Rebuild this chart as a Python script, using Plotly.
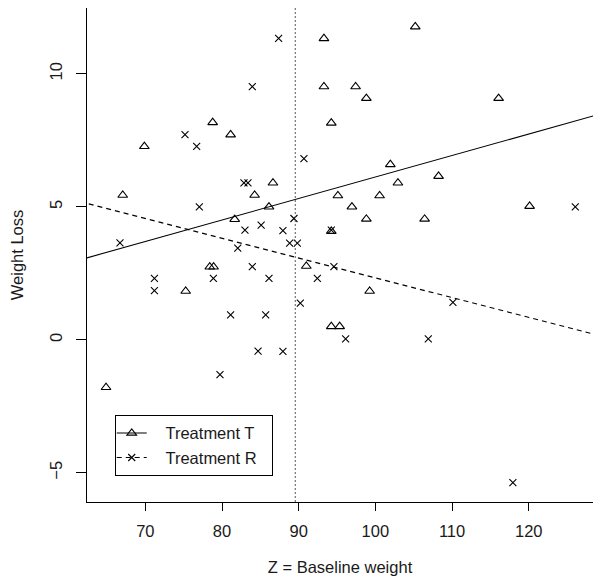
import plotly.graph_objects as go

# ---- data ----
t_z = [78.78, 81.12, 69.87, 67.05, 84.25, 81.65, 86.64, 86.12, 78.4, 78.9,
       75.26, 64.87, 95.11, 100.55, 102.94, 101.95, 96.94, 98.82, 106.42, 94.25,
       90.99, 99.25, 94.25, 95.34, 93.29, 105.2, 93.29, 97.42, 98.82, 94.25,
       116.07, 108.24, 120.11]
t_loss = [8.17, 7.71, 7.27, 5.44, 5.44, 4.53, 5.9, 5.0, 2.74, 2.74,
          1.83, -1.79, 5.42, 5.42, 5.9, 6.59, 5.0, 4.54, 4.54, 4.08,
          2.77, 1.83, 0.5, 0.5, 11.33, 11.77, 9.52, 9.52, 9.08, 8.15,
          9.08, 6.15, 5.02]
r_z = [83.95, 75.17, 76.69, 82.86, 83.38, 77.04, 82.99, 66.69, 82.05, 85.1,
       83.95, 71.18, 78.87, 71.18, 81.12, 84.7, 79.73, 86.12, 85.69, 87.94,
       90.21, 92.43, 94.59, 96.12, 106.9, 87.94, 89.38, 88.82, 89.82, 94.25,
       87.38, 90.68, 126.07, 110.11, 117.93]
r_loss = [9.52, 7.71, 7.27, 5.9, 5.9, 5.0, 4.12, 3.64, 3.45, 4.31,
          2.75, 2.31, 2.31, 1.85, 0.94, -0.43, -1.31, 2.31, 0.94, -0.44,
          1.38, 2.31, 2.75, 0.03, 0.03, 4.1, 4.56, 3.63, 3.63, 4.12,
          11.33, 6.81, 5.0, 1.41, -5.37]

fit_t = {"intercept": -1.96, "slope": 0.0808}
fit_r = {"intercept": 9.768, "slope": -0.0744}
z_ref = 89.55

x_ticks = [70, 80, 90, 100, 110, 120]
y_ticks = [-5, 0, 5, 10]
x_range = [62.39, 128.38]
y_range = [-6.1, 12.475]

FONT = "Arial, Liberation Sans, sans-serif"
FS = 16.5
INK = "#1a1a1a"
NB = "\u00a0"

# fitted lines extended past the plotting region (clipped by the axes)
x_ext = [x_range[0] - 10, x_range[1] + 10]
t_line = [fit_t["intercept"] + fit_t["slope"] * x for x in x_ext]
r_line = [fit_r["intercept"] + fit_r["slope"] * x for x in x_ext]

TRI = dict(symbol="triangle-up-open", size=8.5, color="black",
           line=dict(width=1.1, color="black"))
CROSS = dict(symbol="x-thin-open", size=7, color="black",
             line=dict(width=1.1, color="black"))

fig = go.Figure()

fig.add_trace(go.Scatter(x=t_z, y=t_loss, mode="markers", showlegend=False, marker=TRI))
fig.add_trace(go.Scatter(x=r_z, y=r_loss, mode="markers", showlegend=False, marker=CROSS))
fig.add_trace(go.Scatter(
    x=x_ext, y=t_line, mode="lines+markers",
    name=NB * 3 + "Treatment T" + NB * 2,
    line=dict(color="black", width=1.1), marker=TRI,
))
fig.add_trace(go.Scatter(
    x=x_ext, y=r_line, mode="lines+markers",
    name=NB * 3 + "Treatment R" + NB * 2,
    line=dict(color="black", width=1.1, dash="5px,4px"), marker=CROSS,
))

fig.add_shape(type="line", xref="x", yref="paper", x0=z_ref, x1=z_ref, y0=0, y1=1,
              line=dict(color="#555555", width=1, dash="2px,2px"))

fig.update_layout(
    width=593, height=572,
    margin=dict(l=79, r=8, t=0, b=78),
    paper_bgcolor="white", plot_bgcolor="white",
    font=dict(family=FONT, size=FS, color=INK),
    legend=dict(x=0.0548, y=0.053, xanchor="left", yanchor="bottom",
                bordercolor="black", borderwidth=1, bgcolor="white",
                font=dict(family=FONT, size=FS, color=INK),
                tracegroupgap=0, indentation=-4),
    xaxis=dict(range=x_range, tickvals=x_ticks, showgrid=False, zeroline=False,
               showline=True, mirror=True, linecolor="black", linewidth=1,
               ticks="outside", ticklen=8, tickcolor="black", tickwidth=1,
               ticklabelstandoff=6,
               tickfont=dict(family=FONT, size=FS, color=INK),
               title=dict(text="Z = Baseline weight", standoff=22,
                          font=dict(family=FONT, size=FS, color=INK))),
    yaxis=dict(range=y_range, tickvals=y_ticks, showgrid=False, zeroline=False,
               showline=True, mirror=True, linecolor="black", linewidth=1,
               ticks="outside", ticklen=10, tickcolor="black", tickwidth=1,
               tickangle=-90, ticklabelstandoff=7,
               tickfont=dict(family=FONT, size=FS, color=INK),
               title=dict(text="Weight Loss", standoff=25,
                          font=dict(family=FONT, size=FS, color=INK))),
)

fig.write_html("out.html")
